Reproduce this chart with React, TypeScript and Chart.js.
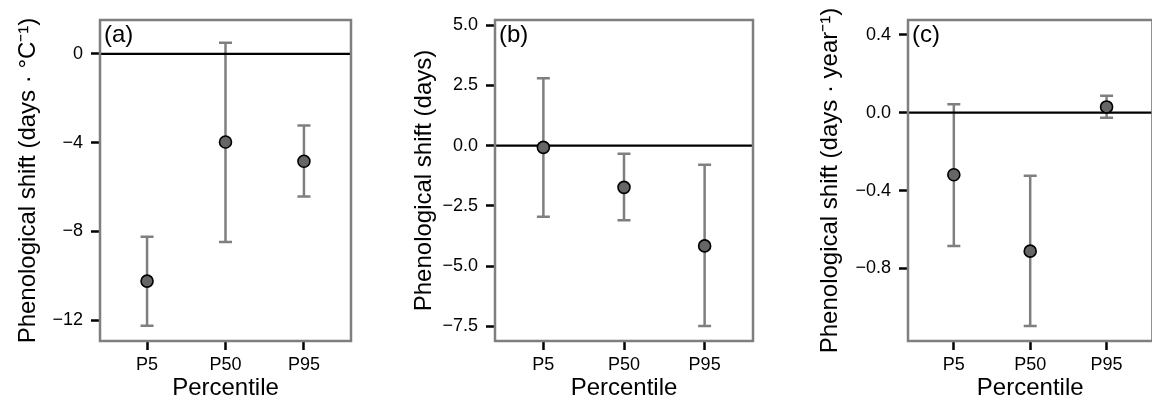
import React, { useEffect, useRef } from 'react';
import { Chart, registerables } from 'chart.js';

Chart.register(...registerables);

// ---------- data ----------
const categories = ['P5', 'P50', 'P95'];

const aMean = [-10.24, -3.97, -4.84];
const aLower = [-12.25, -8.48, -6.43];
const aUpper = [-8.24, 0.51, -3.23];
const aTicks = [0, -4, -8, -12];

const bMean = [-0.07, -1.73, -4.16];
const bLower = [-2.95, -3.1, -7.49];
const bUpper = [2.8, -0.33, -0.79];
const bTicks = [5, 2.5, 0, -2.5, -5, -7.5];

const cMean = [-0.319, -0.711, 0.029];
const cLower = [-0.685, -1.095, -0.026];
const cUpper = [0.043, -0.324, 0.086];
const cTicks = [0.4, 0, -0.4, -0.8];

const FONT = '"Liberation Sans", Arial, Helvetica, sans-serif';

type PanelProps = {
  tag: string;
  yTitle: string;
  mean: number[];
  lower: number[];
  upper: number[];
  ticks: number[];
  decimals: number;
  yMin: number;
  yMax: number;
  left: number;
  width: number;
  axisWidth: number;
  padRight: number;
  titlePad: number;
};

function fmt(v: number, d: number): string {
  const s = Math.abs(v).toFixed(d);
  return v < -1e-9 ? '\u2212' + s : s;
}

function Panel(p: PanelProps) {
  const ref = useRef<HTMLCanvasElement | null>(null);

  useEffect(() => {
    if (!ref.current) return;
    const decor = {
      id: 'decor' + p.tag,
      beforeDatasetsDraw(chart: any) {
        const { ctx, chartArea: ca, scales } = chart;
        const x = scales.x;
        const y = scales.y;
        ctx.save();
        ctx.beginPath();
        ctx.rect(ca.left, ca.top, ca.right - ca.left, ca.bottom - ca.top);
        ctx.clip();
        ctx.strokeStyle = '#7f7f7f';
        ctx.lineWidth = 2.5;
        p.lower.forEach((lo, i) => {
          const px = x.getPixelForValue(i);
          const y1 = y.getPixelForValue(lo);
          const y2 = y.getPixelForValue(p.upper[i]);
          ctx.beginPath();
          ctx.moveTo(px, y1);
          ctx.lineTo(px, y2);
          ctx.moveTo(px - 6.5, y1);
          ctx.lineTo(px + 6.5, y1);
          ctx.moveTo(px - 6.5, y2);
          ctx.lineTo(px + 6.5, y2);
          ctx.stroke();
        });
        const y0 = y.getPixelForValue(0);
        ctx.strokeStyle = '#000';
        ctx.lineWidth = 2.2;
        ctx.beginPath();
        ctx.moveTo(ca.left, y0);
        ctx.lineTo(ca.right, y0);
        ctx.stroke();
        ctx.restore();
      },
      afterDatasetsDraw(chart: any) {
        const { ctx, chartArea: ca } = chart;
        ctx.save();
        ctx.strokeStyle = '#7f7f7f';
        ctx.lineWidth = 2.5;
        ctx.strokeRect(ca.left, ca.top, ca.right - ca.left, ca.bottom - ca.top);
        ctx.fillStyle = '#000';
        ctx.font = '24px ' + FONT;
        ctx.textBaseline = 'alphabetic';
        ctx.textAlign = 'left';
        ctx.fillText('(' + p.tag + ')', ca.left + 4, ca.top + 22);
        ctx.restore();
      },
    };

    const chart = new Chart(ref.current, {
      type: 'scatter',
      data: {
        datasets: [
          {
            data: p.mean.map((v, i) => ({ x: i, y: v })),
            pointRadius: 6,
            pointHoverRadius: 6,
            pointBackgroundColor: '#666666',
            pointBorderColor: '#000000',
            pointBorderWidth: 1.6,
            showLine: false,
          },
        ],
      },
      options: {
        responsive: false,
        animation: false,
        devicePixelRatio: 1,
        events: [],
        layout: { padding: { left: 0, top: 20, right: p.padRight, bottom: 0 } },
        plugins: { legend: { display: false }, tooltip: { enabled: false } },
        scales: {
          x: {
            type: 'linear',
            min: -0.6,
            max: 2.6,
            afterBuildTicks: (s: any) => {
              s.ticks = categories.map((_, i) => ({ value: i }));
            },
            afterFit: (s: any) => {
              s.height = 62;
            },
            ticks: {
              callback: (v: any) => categories[Math.round(Number(v))] ?? '',
              font: { family: FONT, size: 18 },
              color: '#000',
              padding: 4,
              maxRotation: 0,
              autoSkip: false,
            },
            grid: {
              drawOnChartArea: false,
              drawTicks: true,
              tickLength: 9,
              tickColor: '#000',
              tickWidth: 2.5,
            },
            border: { display: false },
            title: {
              display: true,
              text: 'Percentile',
              font: { family: FONT, size: 24 },
              color: '#000',
              padding: { top: 0, bottom: 0 },
            },
          },
          y: {
            type: 'linear',
            min: p.yMin,
            max: p.yMax,
            afterBuildTicks: (s: any) => {
              s.ticks = p.ticks.map((v) => ({ value: v }));
            },
            afterFit: (s: any) => {
              s.width = p.axisWidth;
            },
            ticks: {
              callback: (v: any) => fmt(Number(v), p.decimals),
              font: { family: FONT, size: 18 },
              color: '#000',
              padding: 8,
              autoSkip: false,
            },
            grid: {
              drawOnChartArea: false,
              drawTicks: true,
              tickLength: 9,
              tickColor: '#000',
              tickWidth: 2.5,
            },
            border: { display: false },
            title: {
              display: true,
              text: p.yTitle,
              font: { family: FONT, size: 24 },
              color: '#000',
              padding: { top: p.titlePad, bottom: 0 },
            },
          },
        },
      },
      plugins: [decor],
    } as any);
    return () => chart.destroy();
  }, []);

  return (
    <canvas
      ref={ref}
      width={p.width}
      height={403}
      style={{ position: 'absolute', left: p.left, top: 0, width: p.width, height: 403, display: 'block' }}
    />
  );
}

export default function App() {
  return (
    <div
      style={{
        position: 'absolute',
        left: 0,
        top: 0,
        width: 1152,
        height: 403,
        overflow: 'hidden',
        background: '#ffffff',
      }}
    >
      <Panel
        tag="a"
        yTitle={'Phenological shift (days \u00B7 \u00B0C\u207B\u00B9)'}
        mean={aMean}
        lower={aLower}
        upper={aUpper}
        ticks={aTicks}
        decimals={0}
        yMin={-12.94}
        yMax={1.53}
        left={0}
        width={390}
        axisWidth={100}
        padRight={39}
        titlePad={14}
      />
      <Panel
        tag="b"
        yTitle="Phenological shift (days)"
        mean={bMean}
        lower={bLower}
        upper={bUpper}
        ticks={bTicks}
        decimals={1}
        yMin={-8.11}
        yMax={5.22}
        left={390}
        width={390}
        axisWidth={105}
        padRight={27}
        titlePad={19.5}
      />
      <Panel
        tag="c"
        yTitle={'Phenological shift (days \u00B7 year\u207B\u00B9)'}
        mean={cMean}
        lower={cLower}
        upper={cUpper}
        ticks={cTicks}
        decimals={1}
        yMin={-1.172}
        yMax={0.475}
        left={780}
        width={380}
        axisWidth={128}
        padRight={7}
        titlePad={35.5}
      />
    </div>
  );
}
